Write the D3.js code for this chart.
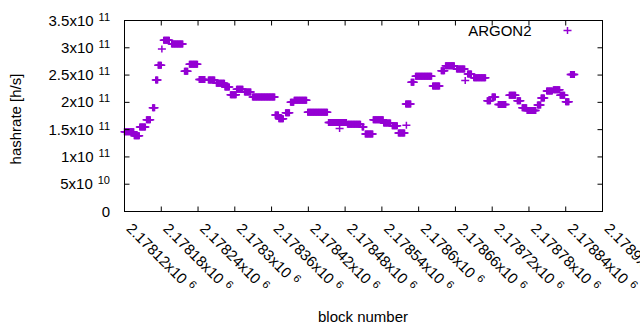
<!DOCTYPE html>
<html>
<head>
<meta charset="utf-8">
<script src="https://cdn.jsdelivr.net/npm/d3@7"></script>
<style>
  body { margin: 0; background: #fff; }
  text { font-family: "Liberation Sans", Arial, sans-serif; font-size: 15px; fill: #000; }
</style>
</head>
<body>
<svg id="chart" width="640" height="330"></svg>
<script>
// runs of consecutive blocks that report the same hashrate (units of 1e9 h/s)
const runFirstBlock = [2178120, 2178136, 2178145, 2178156, 2178166, 2178171, 2178175, 2178181, 2178184, 2178197,
  2178218, 2178226, 2178242, 2178257, 2178270, 2178284, 2178293, 2178303, 2178316, 2178329,
  2178366, 2178372, 2178383, 2178391, 2178397, 2178419, 2178453, 2178471, 2178484, 2178508,
  2178513, 2178526, 2178543, 2178557, 2178567, 2178580, 2178579, 2178588, 2178595, 2178623,
  2178637, 2178644, 2178662, 2178676, 2178680, 2178690, 2178712, 2178720, 2178730, 2178748,
  2178761, 2178769, 2178777, 2178794, 2178800, 2178809, 2178820, 2178831, 2178840, 2178848];
const runLastBlock = [2178135, 2178144, 2178154, 2178162, 2178169, 2178174, 2178180, 2178181, 2178193, 2178215,
  2178223, 2178239, 2178251, 2178267, 2178283, 2178291, 2178302, 2178313, 2178326, 2178365,
  2178371, 2178379, 2178389, 2178396, 2178417, 2178451, 2178482, 2178471, 2178505, 2178510,
  2178525, 2178542, 2178554, 2178565, 2178577, 2178580, 2178587, 2178592, 2178621, 2178634,
  2178642, 2178658, 2178675, 2178676, 2178686, 2178709, 2178717, 2178725, 2178742, 2178758,
  2178766, 2178776, 2178791, 2178799, 2178805, 2178818, 2178830, 2178838, 2178845, 2178854];
const runHashrate = [146, 139, 155, 168, 190, 241, 268, 298, 314, 307,
  257, 270, 242, 241, 235, 228, 214, 224, 219, 210,
  177, 170, 181, 200, 204, 182, 163, 152, 160, 155,
  142, 168, 162, 157, 144, 158, 197, 237, 248, 230,
  258, 267, 261, 240, 252, 245, 203, 210, 196, 213,
  203, 190, 185, 195, 208, 221, 223, 213, 201, 251];

const seriesName = "ARGON2";
const xTicks = [2178120, 2178180, 2178240, 2178300, 2178360, 2178420, 2178480,
  2178540, 2178600, 2178660, 2178720, 2178780, 2178840, 2178900];
const xTickMantissa = ["2.17812x10", "2.17818x10", "2.17824x10", "2.1783x10", "2.17836x10", "2.17842x10", "2.17848x10",
  "2.17854x10", "2.1786x10", "2.17866x10", "2.17872x10", "2.17878x10", "2.17884x10", "2.1789x10"];
const xTickExponent = ["6", "6", "6", "6", "6", "6", "6", "6", "6", "6", "6", "6", "6", "6"];
const yTicks = [0, 5e10, 1e11, 1.5e11, 2e11, 2.5e11, 3e11, 3.5e11];
const yTickMantissa = ["0", "5x10", "1x10", "1.5x10", "2x10", "2.5x10", "3x10", "3.5x10"];
const yTickExponent = ["", "10", "11", "11", "11", "11", "11", "11"];

window.addEventListener('load', () => {
  const svg = d3.select('#chart');
  const margin = {top: 20, right: 38, bottom: 119, left: 124};
  const width = 640 - margin.left - margin.right;
  const height = 330 - margin.top - margin.bottom;
  const color = '#9400d3';
  const tick = 5;

  const g = svg.append('g').attr('transform', `translate(${margin.left + 0.5},${margin.top + 0.5})`);

  const x = d3.scaleLinear().domain([2178120, 2178900]).range([0, width]);
  const y = d3.scaleLinear().domain([0, 3.5e11]).range([height, 0]);

  // expand runs into one point per block
  let points = [];
  runFirstBlock.forEach((b, i) => {
    d3.range(b, runLastBlock[i] + 1).forEach(k => points.push({block: k, rate: runHashrate[i] * 1e9}));
  });

  const plus = `M${-4},0H4M0,${-3.5}V3.5`;

  g.append('g').selectAll('path')
    .data(points)
    .join('path')
    .attr('d', plus)
    .attr('transform', d => `translate(${x(d.block)},${y(d.rate)})`)
    .attr('fill', 'none')
    .attr('stroke', color)
    .attr('stroke-width', 1.5);

  // border
  g.append('rect')
    .attr('width', width).attr('height', height)
    .attr('fill', 'none').attr('stroke', '#000').attr('stroke-width', 1);

  // y ticks (mirrored)
  yTicks.forEach((v, i) => {
    g.append('line').attr('x1', 0).attr('x2', tick).attr('y1', y(v)).attr('y2', y(v)).attr('stroke', '#000');
    g.append('line').attr('x1', width).attr('x2', width - tick).attr('y1', y(v)).attr('y2', y(v)).attr('stroke', '#000');
    let t = g.append('text')
      .attr('x', -14.5)
      .attr('y', y(v) + 5)
      .attr('text-anchor', 'end');
    t.append('tspan').text(yTickMantissa[i]);
    if (yTickExponent[i]) {
      t.append('tspan').attr('dx', 5).attr('dy', -5).attr('font-size', 11).text(yTickExponent[i]);
    }
  });

  // x ticks (mirrored) with rotated labels
  xTicks.forEach((v, i) => {
    g.append('line').attr('x1', x(v)).attr('x2', x(v)).attr('y1', height).attr('y2', height - tick).attr('stroke', '#000');
    g.append('line').attr('x1', x(v)).attr('x2', x(v)).attr('y1', 0).attr('y2', tick).attr('stroke', '#000');
    let t = g.append('text')
      .attr('transform', `translate(${x(v) + 1},${height + 18}) rotate(45)`)
      .attr('text-anchor', 'start');
    t.append('tspan').text(xTickMantissa[i]);
    t.append('tspan').attr('dx', 5).attr('dy', -5).attr('font-size', 11).text(xTickExponent[i]);
  });

  // axis titles
  svg.append('text')
    .attr('transform', `translate(21,119) rotate(-90)`)
    .attr('text-anchor', 'middle')
    .text('hashrate [h/s]');
  svg.append('text')
    .attr('x', 363)
    .attr('y', 322)
    .attr('text-anchor', 'middle')
    .text('block number');

  // legend
  g.append('text')
    .attr('x', width - 71)
    .attr('y', 15)
    .attr('text-anchor', 'end')
    .text(seriesName);
  g.append('path')
    .attr('d', plus)
    .attr('transform', `translate(${width - 35},10)`)
    .attr('fill', 'none')
    .attr('stroke', color)
    .attr('stroke-width', 1.5);
});
</script>
</body>
</html>
